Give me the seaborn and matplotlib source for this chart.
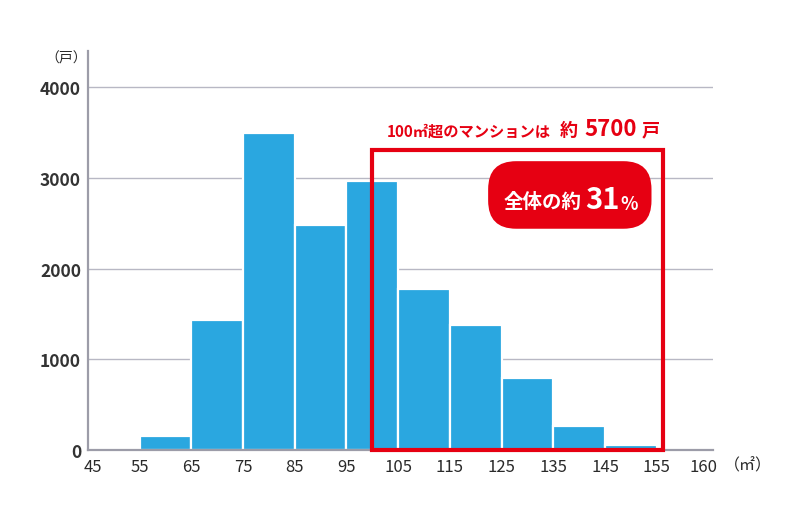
import numpy as np
import matplotlib
matplotlib.use("Agg")
import matplotlib.pyplot as plt
import seaborn as sns
from matplotlib.patches import Rectangle, FancyBboxPatch
from matplotlib.transforms import IdentityTransform

# 面積帯（㎡）ごとの戸数
bin_edges = [55, 65, 75, 85, 95, 105, 115, 125, 135, 145, 155]
counts = [150, 1430, 3500, 2480, 2970, 1780, 1380, 790, 260, 50]
xtick_pos = [46, 55, 65, 75, 85, 95, 105, 115, 125, 135, 145, 155, 164]
xtick_labels = ["45", "55", "65", "75", "85", "95", "105", "115", "125",
                "135", "145", "155", "160"]
yticks = [0, 1000, 2000, 3000, 4000]

sns.set_theme(style="white")
plt.rcParams["font.family"] = ["Noto Sans CJK JP", "DejaVu Sans"]

BLUE = "#2aa7e0"
RED = "#e60012"
GRID = "#b8b8c4"
AXIS = "#9c9ca8"
TXT = "#2a2a2a"

fig = plt.figure(figsize=(8, 5.06), dpi=100)
ax = fig.add_axes([88 / 800, 1 - 451 / 506, (712.5 - 88) / 800, (451 - 52) / 506])

centers = [(a + b) / 2 for a, b in zip(bin_edges[:-1], bin_edges[1:])]
sns.histplot(x=centers, weights=counts, bins=bin_edges, ax=ax,
             color=BLUE, alpha=1, edgecolor="white", linewidth=1.6, zorder=2)

ax.set_xlim(45, 165.8)
ax.set_ylim(0, 4400)
ax.set_xlabel("")
ax.set_ylabel("")

for v in yticks[1:]:
    ax.axhline(v, color=GRID, lw=1.0, zorder=1)

for s in ["top", "right"]:
    ax.spines[s].set_visible(False)
for s in ["left", "bottom"]:
    ax.spines[s].set_color(AXIS)
    ax.spines[s].set_linewidth(1.6)
    ax.spines[s].set_zorder(3)

ax.set_xticks(xtick_pos)
ax.set_xticklabels(xtick_labels, fontsize=12, color=TXT)
ax.set_yticks(yticks)
ax.set_yticklabels([str(v) for v in yticks], fontsize=12.5, color="#333333",
                   fontweight="bold")
ax.tick_params(axis="both", length=0)
ax.tick_params(axis="x", pad=6)
ax.tick_params(axis="y", pad=5)

# 100㎡超の枠
ax.add_patch(Rectangle((100, 0), 56.2, 3306, fill=False, edgecolor=RED,
                       linewidth=3, zorder=4, clip_on=False))

# 角丸ラベル
fig.canvas.draw()
x0, y0 = ax.transData.transform((122.4, 2440))
x1, y1 = ax.transData.transform((154.0, 3185))
fig.patches.append(FancyBboxPatch((x0, y0), x1 - x0, y1 - y0,
                                  boxstyle="round,pad=0,rounding_size=28",
                                  transform=IdentityTransform(),
                                  facecolor=RED, edgecolor="none", zorder=5))

def px(x, y):
    return x / 800, 1 - y / 506

fig.text(*px(504, 202), "全体の約", color="white", fontsize=14,
         fontweight="bold", ha="left", va="center", zorder=6)
fig.text(*px(585, 200), "31", color="white", fontsize=21,
         fontweight="bold", ha="left", va="center", zorder=6)
fig.text(*px(620, 204), "%", color="white", fontsize=13,
         fontweight="bold", ha="left", va="center", zorder=6)

fig.text(*px(387, 132), "100㎡超のマンションは", color=RED, fontsize=11,
         fontweight="bold", ha="left", va="center")
fig.text(*px(560, 131), "約", color=RED, fontsize=13,
         fontweight="bold", ha="left", va="center")
fig.text(*px(584, 130), "5700", color=RED, fontsize=16,
         fontweight="bold", ha="left", va="center")
fig.text(*px(642, 131), "戸", color=RED, fontsize=13,
         fontweight="bold", ha="left", va="center")

fig.text(*px(66, 58), "（戸）", color=TXT, fontsize=10, ha="center", va="center")
fig.text(*px(748, 466), "（㎡）", color=TXT, fontsize=11.5, ha="center", va="center")

fig.savefig("out.png", dpi=100)
